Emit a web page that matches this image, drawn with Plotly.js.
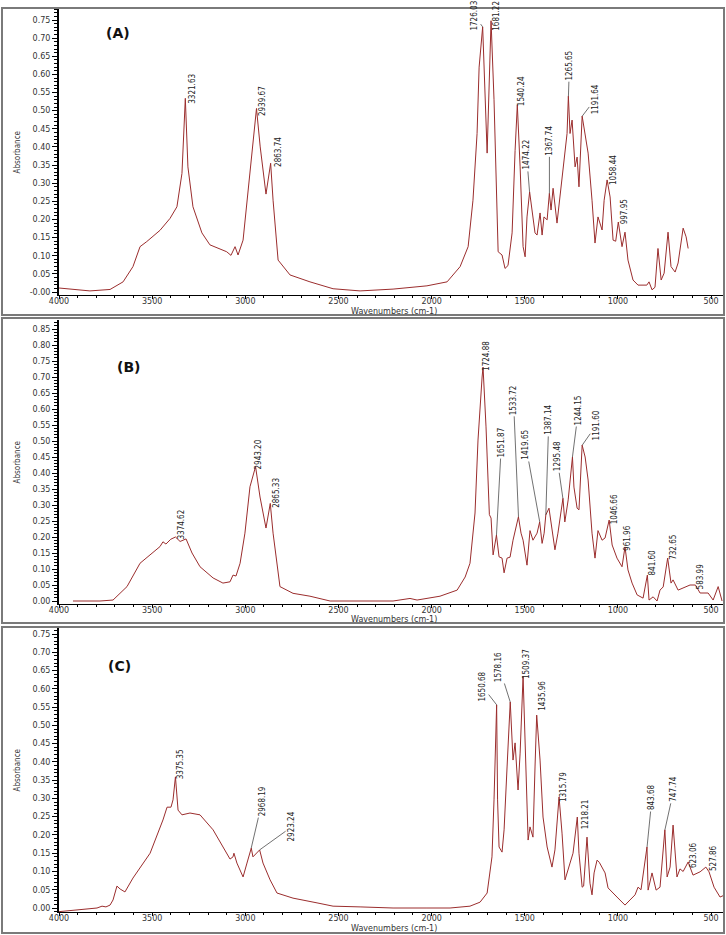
<!DOCTYPE html>
<html>
<head>
<meta charset="utf-8">
<script src="https://cdn.plot.ly/plotly-3.0.1.min.js"></script>
<style>
body { margin: 0; background: #fff; }
#chart { width: 726px; height: 935px; }
</style>
</head>
<body>
<div id="chart"></div>
<script>
// --- spectrum A ---
var wnA = [4000, 3834, 3726, 3656, 3603, 3565, 3529, 3458, 3404, 3367,
	3340, 3322, 3308, 3281, 3233, 3190, 3100, 3077, 3055, 3039,
	3012, 2985, 2964, 2940, 2920, 2889, 2864, 2851, 2824, 2760,
	2653, 2529, 2384, 2207, 2025, 1917, 1847, 1804, 1778, 1756,
	1745, 1726, 1702, 1681, 1665, 1649, 1643, 1622, 1606, 1590,
	1568, 1552, 1540, 1525, 1509, 1498, 1488, 1474, 1445, 1434,
	1418, 1407, 1397, 1380, 1368, 1359, 1348, 1327, 1311, 1295,
	1273, 1266, 1257, 1246, 1230, 1219, 1209, 1192, 1182, 1160,
	1139, 1123, 1107, 1085, 1074, 1058, 1042, 1026, 1012, 998,
	978, 962, 946, 919, 892, 845, 833, 817, 801, 785,
	768, 752, 731, 715, 693, 677, 650, 634, 623];
var absA = [0.011, 0.003, 0.007, 0.028, 0.07, 0.125, 0.139, 0.17, 0.203, 0.235,
	0.327, 0.534, 0.345, 0.235, 0.163, 0.13, 0.111, 0.101, 0.125, 0.102,
	0.143, 0.272, 0.383, 0.506, 0.40, 0.27, 0.355, 0.253, 0.088, 0.047,
	0.028, 0.009, 0.003, 0.008, 0.017, 0.028, 0.07, 0.125, 0.253, 0.437,
	0.62, 0.731, 0.383, 0.748, 0.53, 0.253, 0.111, 0.102, 0.065, 0.073,
	0.163, 0.39, 0.516, 0.345, 0.125, 0.097, 0.207, 0.276, 0.163, 0.157,
	0.218, 0.157, 0.207, 0.199, 0.272, 0.226, 0.286, 0.19, 0.262, 0.327,
	0.437, 0.54, 0.437, 0.474, 0.345, 0.372, 0.29, 0.485, 0.455, 0.383,
	0.253, 0.135, 0.207, 0.171, 0.253, 0.309, 0.262, 0.143, 0.14, 0.193,
	0.125, 0.165, 0.088, 0.033, 0.019, 0.019, 0.028, 0.006, 0.013, 0.12,
	0.033, 0.052, 0.165, 0.07, 0.055, 0.08, 0.176, 0.152, 0.12];
var peaksA = ['3321.63', '2939.67', '2863.74', '1726.03', '1681.22', '1540.24',
	'1474.22', '1367.74', '1265.65', '1191.64', '1058.44', '997.95'];
var peakAbsA = [0.534, 0.506, 0.355, 0.731, 0.748, 0.516, 0.276, 0.272, 0.54, 0.485, 0.309, 0.193];

// --- spectrum B ---
var wnB = [3925, 3780, 3710, 3635, 3565, 3511, 3458, 3442, 3426, 3400,
	3375, 3350, 3318, 3286, 3243, 3173, 3120, 3082, 3066, 3050,
	3028, 3002, 2975, 2945, 2921, 2889, 2866, 2851, 2814, 2744,
	2653, 2545, 2422, 2207, 2116, 2078, 1955, 1863, 1820, 1794,
	1767, 1751, 1729, 1724, 1708, 1690, 1681, 1670, 1652, 1638,
	1622, 1611, 1595, 1579, 1563, 1534, 1520, 1509, 1488, 1472,
	1456, 1434, 1420, 1407, 1396, 1387, 1370, 1354, 1338, 1322,
	1295, 1285, 1267, 1244, 1236, 1219, 1209, 1192, 1176, 1160,
	1139, 1123, 1107, 1085, 1069, 1047, 1031, 1005, 978, 962,
	946, 924, 897, 865, 842, 833, 811, 790, 774, 757,
	733, 715, 704, 677, 650, 613, 584, 559, 516, 489,
	462, 441];
var absB = [0.0, 0.0, 0.003, 0.045, 0.118, 0.144, 0.17, 0.185, 0.178, 0.193,
	0.2, 0.186, 0.194, 0.15, 0.107, 0.072, 0.056, 0.06, 0.081, 0.078,
	0.118, 0.212, 0.357, 0.42, 0.325, 0.228, 0.305, 0.212, 0.045, 0.024,
	0.015, 0.0, 0.0, 0.0, 0.008, 0.003, 0.015, 0.034, 0.075, 0.118,
	0.275, 0.503, 0.70, 0.731, 0.544, 0.27, 0.259, 0.144, 0.206, 0.138,
	0.134, 0.088, 0.134, 0.137, 0.19, 0.263, 0.212, 0.19, 0.112, 0.22,
	0.19, 0.212, 0.247, 0.18, 0.212, 0.269, 0.29, 0.231, 0.16, 0.212,
	0.321, 0.247, 0.316, 0.45, 0.356, 0.29, 0.285, 0.487, 0.45, 0.378,
	0.212, 0.134, 0.22, 0.19, 0.197, 0.253, 0.175, 0.134, 0.107, 0.169,
	0.097, 0.056, 0.019, 0.009, 0.081, 0.003, 0.013, 0.0, 0.034, 0.044,
	0.134, 0.056, 0.066, 0.034, 0.04, 0.05, 0.05, 0.025, 0.025, 0.003,
	0.045, 0.0];
var peaksB = ['3374.62', '2943.20', '2865.33', '1724.88', '1651.87', '1533.72', '1419.65', '1387.14',
	'1295.48', '1244.15', '1191.60', '1046.66', '961.96', '841.60', '732.65', '583.99'];
var peakAbsB = [0.2, 0.42, 0.305, 0.731, 0.206, 0.263, 0.247, 0.269, 0.321, 0.45, 0.487, 0.253, 0.169, 0.081, 0.134, 0.05];

// --- spectrum C ---
var wnC = [4000, 3871, 3796, 3769, 3748, 3726, 3710, 3689, 3672, 3646,
	3603, 3511, 3442, 3420, 3399, 3388, 3375, 3361, 3340, 3297,
	3243, 3173, 3120, 3082, 3066, 3061, 3045, 3012, 2991, 2968,
	2959, 2937, 2923, 2905, 2867, 2830, 2744, 2615, 2529, 2384,
	2207, 2025, 1901, 1794, 1740, 1702, 1676, 1665, 1651, 1646,
	1638, 1622, 1611, 1595, 1578, 1563, 1552, 1536, 1525, 1509,
	1493, 1482, 1472, 1456, 1445, 1436, 1418, 1402, 1380, 1354,
	1338, 1316, 1300, 1284, 1257, 1241, 1218, 1209, 1192, 1184,
	1166, 1150, 1139, 1128, 1112, 1100, 1069, 1053, 1005, 962,
	935, 908, 892, 876, 844, 838, 817, 795, 774, 748,
	736, 720, 704, 683, 667, 650, 623, 597, 559, 528,
	511, 484, 452, 425];
var absC = [-0.01, -0.003, 0.0, 0.005, 0.003, 0.008, 0.022, 0.06, 0.052, 0.044,
	0.082, 0.15, 0.241, 0.276, 0.276, 0.296, 0.359, 0.268, 0.255, 0.26,
	0.255, 0.214, 0.167, 0.134, 0.14, 0.15, 0.123, 0.085, 0.123, 0.164,
	0.14, 0.153, 0.159, 0.123, 0.077, 0.041, 0.027, 0.014, 0.005, 0.003,
	0.0, 0.0, 0.0, 0.005, 0.016, 0.041, 0.14, 0.296, 0.556, 0.296,
	0.167, 0.153, 0.214, 0.386, 0.564, 0.405, 0.452, 0.323, 0.424, 0.635,
	0.386, 0.186, 0.222, 0.194, 0.386, 0.528, 0.405, 0.249, 0.167, 0.112,
	0.159, 0.304, 0.205, 0.077, 0.123, 0.15, 0.249, 0.15, 0.057, 0.06,
	0.194, 0.068, 0.036, 0.096, 0.131, 0.125, 0.096, 0.055, 0.03, 0.008,
	0.022, 0.036, 0.057, 0.05, 0.167, 0.049, 0.096, 0.049, 0.057, 0.214,
	0.085, 0.112, 0.227, 0.085, 0.107, 0.1, 0.126, 0.09, 0.099, 0.112,
	0.099, 0.057, 0.03, 0.036];
var peaksC = ['3375.35', '2968.19', '2923.24', '1650.68', '1578.16', '1509.37', '1435.96',
	'1315.79', '1218.21', '843.68', '747.74', '623.06', '527.86'];
var peakAbsC = [0.359, 0.164, 0.159, 0.556, 0.564, 0.635, 0.528, 0.304, 0.249, 0.167, 0.214, 0.126, 0.112];

// axis ticks
var wnTicks = [4000, 3500, 3000, 2500, 2000, 1500, 1000, 500];
var absTicksA = ['-0.00', '0.05', '0.10', '0.15', '0.20', '0.25', '0.30', '0.35', '0.40', '0.45', '0.50', '0.55', '0.60', '0.65', '0.70', '0.75'];
var absTicksB = ['0.00', '0.05', '0.10', '0.15', '0.20', '0.25', '0.30', '0.35', '0.40', '0.45', '0.50', '0.55', '0.60', '0.65', '0.70', '0.75', '0.80', '0.85'];
var absTicksC = ['0.00', '0.05', '0.10', '0.15', '0.20', '0.25', '0.30', '0.35', '0.40', '0.45', '0.50', '0.55', '0.60', '0.65', '0.70', '0.75'];

// label placement (pixel offset of text centre from the peak, 1 = leader line)
var offA = [[7,-10,0],[6,-7,0],[8,-11,0],[-8,-11,1],[6,-5,0],[5,-14,0],[-3,-37,1],[0,-53,1],[1,-31,1],[13,-17,1],[7,-10,0],[6,-10,0]];
var offB = [[5,-12,0],[3,-12,0],[6,-11,0],[3,-11,0],[5,-93,1],[-5,-117,1],[-14,-77,1],[3,-95,1],[-6,-42,1],[6,-47,1],[14,-20,1],[5,-11,0],[3,-9,0],[5,-13,0],[5,-11,0],[5,-9,0]];
var offC = [[5,-13,0],[11,-47,1],[32,-23,1],[-14,-18,1],[-11,-35,1],[3,-12,0],[5,-19,0],[5,-10,0],[8,-3,0],[5,-50,1],[9,-41,1],[6,-7,0],[7,-9,0]];

var W = 726, H = 935;
function px(x) { return x / W; }
function py(y) { return 1 - y / H; }

var LINE = '#9b2d2d';
var TICKFONT = {family: 'DejaVu Sans, sans-serif', size: 8, color: '#333'};
var NARROW = 'Liberation Sans Narrow, DejaVu Sans Condensed, Arial Narrow, sans-serif';

function spectrum(x, y, n) {
	return {
		x: x, y: y,
		xaxis: 'x' + n, yaxis: 'y' + n,
		type: 'scatter', mode: 'lines',
		line: {color: LINE, width: 1},
		hoverinfo: 'skip',
	};
}

function xax(yname) {
	return {
		domain: [px(59), px(723)],
		range: [4000, 436],
		anchor: yname,
		tickmode: 'array',
		tickvals: wnTicks,
		ticks: 'outside', ticklen: 3, tickcolor: '#000',
		ticklabelstandoff: -5,
		tickfont: TICKFONT,
		showline: true, linecolor: '#000', linewidth: 1,
		showgrid: false, zeroline: false,
		minor: {tick0: 0, dtick: 100, ticks: 'outside', ticklen: 2, tickcolor: '#000'},
	};
}

function yax(xname, ticks, top, bottom, zeroPx, unit) {
	// unit = pixels per 1.0 absorbance, zeroPx = pixel row of 0.00
	return {
		domain: [py(bottom), py(top)],
		range: [(zeroPx - bottom) / unit, (zeroPx - top) / unit],
		anchor: xname,
		tickmode: 'array',
		tickvals: ticks.map(function(t) { return Math.abs(parseFloat(t)); }),
		ticktext: ticks,
		ticks: 'outside', ticklen: 5, tickcolor: '#000',
		tickfont: TICKFONT,
		showline: true, linecolor: '#000', linewidth: 2,
		showgrid: false, zeroline: false,
		minor: {tick0: 0, dtick: 0.01, ticks: 'outside', ticklen: 3, tickcolor: '#000'},
	};
}

function peakLabels(names, values, offs, n) {
	return names.map(function(name, i) {
		var o = offs[i];
		var a = {
			x: parseFloat(name), y: values[i],
			xref: 'x' + n, yref: 'y' + n,
			text: name, textangle: -90,
			font: {family: NARROW, size: 8, color: '#222'},
		};
		if (o[2]) {
			a.showarrow = true;
			a.arrowhead = 0;
			a.arrowwidth = 0.7;
			a.arrowcolor = '#333';
			a.ax = o[0];
			a.ay = o[1];
		} else {
			a.showarrow = false;
			a.xshift = o[0];
			a.yshift = -o[1];
		}
		return a;
	});
}

function paperText(text, x, y, font, angle, anchor) {
	return {
		text: text, xref: 'paper', yref: 'paper',
		x: px(x), y: py(y), showarrow: false,
		yanchor: anchor || 'middle', borderpad: 0,
		textangle: angle || 0, font: font,
	};
}

function frame(top, bottom) {
	return {
		type: 'rect', xref: 'paper', yref: 'paper',
		x0: px(2), x1: px(724), y0: py(bottom), y1: py(top),
		line: {color: '#7a7a7a', width: 2},
	};
}

var titleFont = {family: 'DejaVu Sans, sans-serif', size: 8, color: '#333'};
var absFont = {family: NARROW, size: 8, color: '#333'};
var letterFont = {family: 'DejaVu Sans, sans-serif', size: 14, color: '#111', weight: 'bold'};

var annotations = []
	.concat(peakLabels(peaksA, peakAbsA, offA, ''))
	.concat(peakLabels(peaksB, peakAbsB, offB, '2'))
	.concat(peakLabels(peaksC, peakAbsC, offC, '3'))
	.concat([
		paperText('<b>(A)</b>', 105, 33, letterFont),
		paperText('<b>(B)</b>', 116, 367, letterFont),
		paperText('<b>(C)</b>', 107, 666, letterFont),
		paperText('Wavenumbers (cm-1)', 394, 306, titleFont, 0, 'top'),
		paperText('Wavenumbers (cm-1)', 394, 614, titleFont, 0, 'top'),
		paperText('Wavenumbers (cm-1)', 394, 923, titleFont, 0, 'top'),
		paperText('Absorbance', 11, 152, absFont, -90),
		paperText('Absorbance', 11, 462, absFont, -90),
		paperText('Absorbance', 11, 770, absFont, -90),
	]);

var layout = {
	width: W, height: H,
	margin: {l: 0, r: 0, t: 0, b: 0},
	paper_bgcolor: '#fff', plot_bgcolor: '#fff',
	showlegend: false,
	xaxis: xax('y'),
	yaxis: yax('x', absTicksA, 9, 295, 292, 362.67),
	xaxis2: xax('y2'),
	yaxis2: yax('x2', absTicksB, 320, 604, 601, 320),
	xaxis3: xax('y3'),
	yaxis3: yax('x3', absTicksC, 628, 912, 908, 365.3),
	annotations: annotations,
	shapes: [frame(8, 315), frame(318, 623), frame(627, 933)],
};

var data = [
	spectrum(wnA, absA, ''),
	spectrum(wnB, absB, '2'),
	spectrum(wnC, absC, '3'),
];

Plotly.newPlot('chart', data, layout, {staticPlot: true, displayModeBar: false});
</script>
</body>
</html>
